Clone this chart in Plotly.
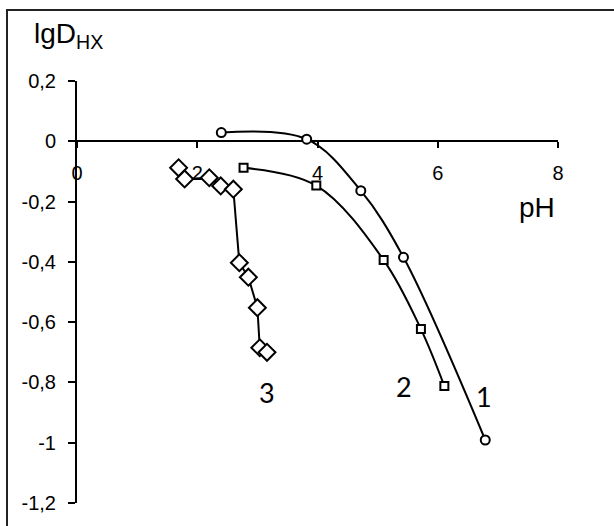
import plotly.graph_objects as go

# Series data (pH, lgD_HX)
ph_1 = [2.40, 3.82, 4.72, 5.43, 6.79]
lgd_1 = [0.029, 0.007, -0.164, -0.385, -0.991]

ph_2 = [2.77, 3.98, 5.10, 5.72, 6.11]
lgd_2 = [-0.088, -0.147, -0.394, -0.623, -0.812]

ph_3 = [1.69, 1.79, 2.20, 2.39, 2.60, 2.70, 2.85, 3.00, 3.04, 3.16]
lgd_3 = [-0.088, -0.125, -0.121, -0.148, -0.159, -0.403, -0.451, -0.552, -0.685, -0.700]

x_ticks = [0, 2, 4, 6, 8]
x_ticktext = ["0", "2", "4", "6", "8"]
y_ticks = [0.2, 0, -0.2, -0.4, -0.6, -0.8, -1.0, -1.2]
y_ticktext = ["0,2", "0", "-0,2", "-0,4", "-0,6", "-0,8", "-1", "-1,2"]

series_labels = ["1", "2", "3"]
label_pos = [(6.77, -0.848), (5.44, -0.815), (3.16, -0.835)]

W, H = 614, 526
ml, mr, mt, mb = 77, 56, 81, 23
yr = [-1.2, 0.2]

fig = go.Figure()
marker_line = dict(color="black", width=2)
fig.add_trace(go.Scatter(x=ph_1, y=lgd_1, mode="lines+markers",
                         line=dict(color="black", width=2, shape="spline", smoothing=1.0),
                         marker=dict(symbol="circle", size=9, color="white", line=marker_line)))
fig.add_trace(go.Scatter(x=ph_2, y=lgd_2, mode="lines+markers",
                         line=dict(color="black", width=2, shape="spline", smoothing=1.0),
                         marker=dict(symbol="square", size=8, color="white", line=marker_line)))
fig.add_trace(go.Scatter(x=ph_3, y=lgd_3, mode="lines+markers",
                         line=dict(color="black", width=2),
                         marker=dict(symbol="diamond", size=13, color="white", line=marker_line)))

ypos0 = (0 - yr[0]) / (yr[1] - yr[0])
pw = W - ml - mr
ph_ = H - mt - mb

annotations = []
for t, (ax, ay) in zip(series_labels, label_pos):
    annotations.append(dict(x=ax, y=ay, xref="x", yref="y", text=t, showarrow=False,
                            font=dict(family="Lato, Carlito, sans-serif", size=27, color="black")))
annotations.append(dict(x=7.65, y=-0.218, xref="x", yref="y", text="pH", showarrow=False,
                        font=dict(family="Liberation Sans, Arial", size=28, color="black")))
annotations.append(dict(x=(32 - ml) / pw, y=(H - mb - 36) / ph_,
                        xref="paper", yref="paper", xanchor="left", yanchor="middle",
                        text="lgD<sub>HX</sub>", showarrow=False,
                        font=dict(family="Liberation Sans, Arial", size=28, color="black")))

shapes = [dict(type="rect", xref="paper", yref="paper",
               x0=(7 - ml) / pw, x1=1.3, y0=-0.3, y1=(H - mb - 10) / ph_,
               line=dict(color="#222", width=2), fillcolor="rgba(0,0,0,0)", layer="below")]

fig.update_layout(
    width=W, height=H, margin=dict(l=ml, r=mr, t=mt, b=mb),
    paper_bgcolor="white", plot_bgcolor="white", showlegend=False,
    annotations=annotations, shapes=shapes,
    xaxis=dict(range=[0, 8], anchor="free", position=ypos0, showgrid=False, zeroline=False,
               showline=True, linecolor="black", linewidth=2, ticks="outside", ticklen=6,
               tickwidth=2, tickcolor="black", tickvals=x_ticks, ticktext=x_ticktext,
               ticklabelstandoff=8, layer="below traces",
               tickfont=dict(family="Liberation Sans, Arial", size=20, color="black")),
    yaxis=dict(range=yr, showgrid=False, zeroline=False, showline=True, linecolor="black",
               linewidth=2, ticks="outside", ticklen=7, tickwidth=2, tickcolor="black",
               tickvals=y_ticks, ticktext=y_ticktext, ticklabelstandoff=8, layer="below traces",
               tickfont=dict(family="Liberation Sans, Arial", size=20, color="black")),
)

fig.write_html("out.html", config={"displayModeBar": False},
               post_script="document.body.style.margin='0';")
